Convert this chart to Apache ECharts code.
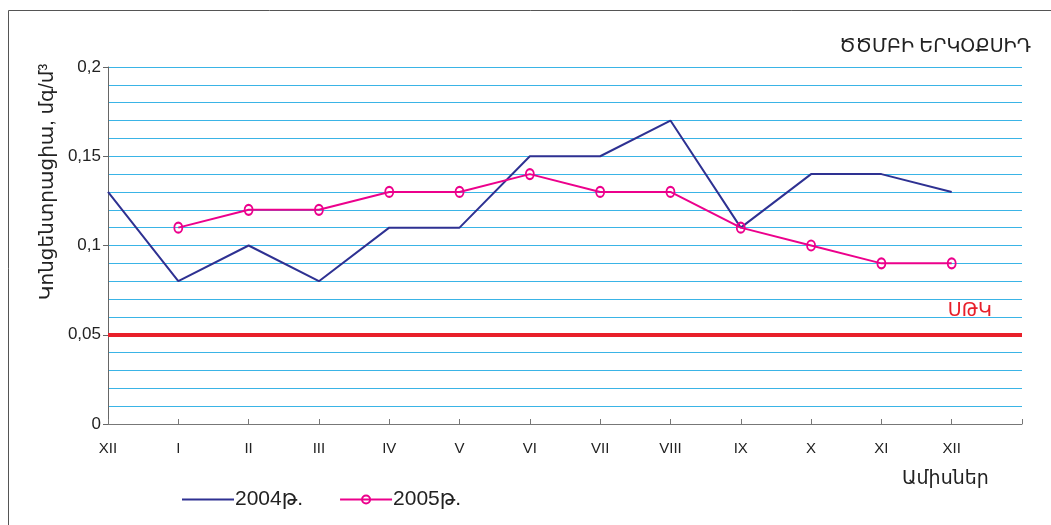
<!DOCTYPE html>
<html><head><meta charset="utf-8">
<script src="https://cdn.jsdelivr.net/npm/echarts@6/dist/echarts.min.js"></script>
<style>html,body{margin:0;padding:0;background:#fff}#c{width:1051px;height:525px}</style>
</head><body><div id="c"></div>
<script>
var months = ['XII','I','II','III','IV','V','VI','VII','VIII','IX','X','XI','XII',''];
var s2004 = [0.13,0.08,0.10,0.08,0.11,0.11,0.15,0.15,0.17,0.11,0.14,0.14,0.13,null];
var s2005 = [null,0.11,0.12,0.12,0.13,0.13,0.14,0.13,0.13,0.11,0.10,0.09,0.09,null];
var limitValue = 0.05;
var titleText = 'ԾԾՄԲԻ ԵՐԿՕՔՍԻԴ';
var yName = 'Կոնցենտրացիա, մգ/մ³';
var xName = 'Ամիսներ';
var limitName = 'ՍԹԿ';
var names = ['2004թ.','2005թ.'];

var F = "'Liberation Sans','DejaVu Sans',sans-serif";
var FN = "'Liberation Sans Narrow','Liberation Sans','DejaVu Sans',sans-serif";
var chart = echarts.init(document.getElementById('c'), null, {renderer:'canvas'});
chart.setOption({
  animation:false,
  grid:{left:108,right:29,top:67,bottom:101,containLabel:false},
  graphic:[
    {type:'rect',shape:{x:8.5,y:10.5,width:1100,height:600},style:{fill:null,stroke:'#555',lineWidth:1}},
    {type:'text',right:20,top:37,style:{text:titleText,font:"19px "+F,fill:'#222'}},
    {type:'text',left:902,top:469,style:{text:xName,font:"19px "+FN,fill:'#222'}},
    {type:'text',x:47,y:182,rotation:Math.PI/2,
      style:{text:yName,font:"20px "+F,fill:'#222',align:'center',verticalAlign:'middle'}}
  ],
  legend:{left:176,top:484,itemWidth:52,itemHeight:10,itemGap:36,
    textStyle:{fontFamily:FN,fontSize:21,color:'#222',padding:[0,0,0,-4]},
    data:[{name:names[0],itemStyle:{opacity:0}},{name:names[1]}]},
  xAxis:{type:'category',data:months,boundaryGap:false,
    axisLine:{lineStyle:{color:'#777',width:1}},
    axisTick:{inside:true,length:5,lineStyle:{color:'#777'},interval:0},
    axisLabel:{interval:0,margin:17,fontFamily:FN,fontSize:15,color:'#222'},
    splitLine:{show:false}},
  yAxis:[
    {type:'value',min:0,max:0.2,interval:0.05,
      axisLine:{show:true,lineStyle:{color:'#666'}},
      axisTick:{show:true,length:5,lineStyle:{color:'#666'}},
      axisLabel:{fontFamily:F,fontSize:17,color:'#222',margin:7,
        formatter:function(v){return String(+v.toFixed(2)).replace('.',',');}},
      splitLine:{show:false}},
    {type:'value',min:0,max:0.2,interval:0.01,position:'left',
      axisLine:{show:false},axisTick:{show:false},axisLabel:{show:false},
      splitLine:{show:true,lineStyle:{color:'#3ab4e6',width:1}}}
  ],
  series:[
    {name:names[0],type:'line',data:s2004,symbol:'none',yAxisIndex:0,
      lineStyle:{color:'#2e3192',width:2},itemStyle:{color:'#2e3192'},
      markLine:{silent:true,symbol:'none',
        lineStyle:{color:'#e8202a',width:4,type:'solid'},
        label:{show:true,position:'insideEndTop',formatter:limitName,color:'#e8202a',
          fontFamily:F,fontSize:19,distance:[30,14]},
        data:[{yAxis:limitValue}]}},
    {name:names[1],type:'line',data:s2005,symbol:'circle',symbolSize:[8,10],yAxisIndex:0,
      lineStyle:{color:'#ec008c',width:2},
      itemStyle:{color:'rgba(255,255,255,0)',borderColor:'#ec008c',borderWidth:2}}
  ]
});
</script></body></html>
